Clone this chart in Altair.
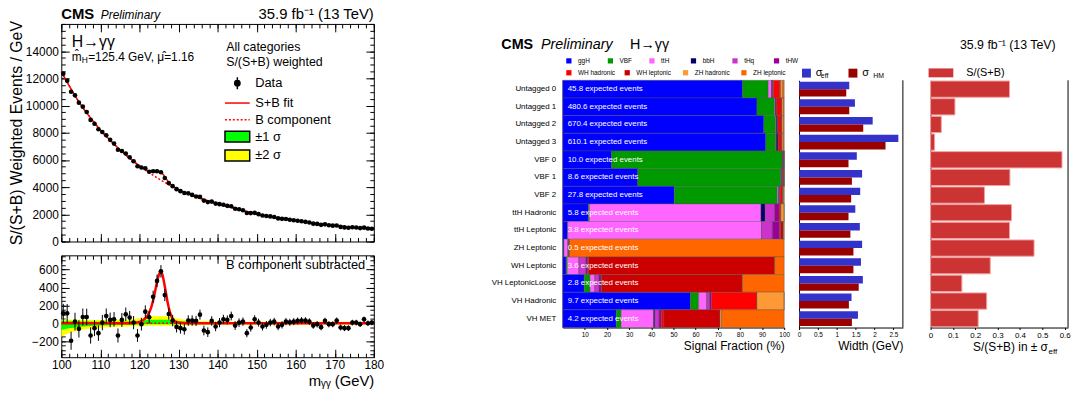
import altair as alt
import pandas as pd

FONT = "Liberation Sans"

# ---------------- left: diphoton mass spectrum ----------------
mass_bins = [100.5 + i for i in range(80)]  # 1 GeV bins
weighted_events = [12341, 11819, 11012, 10748, 10208, 9918, 9525, 8941, 8660, 8257,
                   8049, 7816, 7477, 7199, 6745, 6657, 6469, 6189, 5900, 5532,
                   5444, 5383, 5125, 5165, 5162, 5096, 4666, 4296, 4069, 3850,
                   3702, 3565, 3543, 3427, 3310, 3278, 3007, 2896, 2934, 2785,
                   2746, 2704, 2620, 2589, 2410, 2367, 2300, 2096, 2087, 2108,
                   2008, 1908, 1872, 1844, 1803, 1697, 1666, 1654, 1599, 1560,
                   1525, 1487, 1447, 1395, 1313, 1292, 1226, 1263, 1195, 1164,
                   1176, 1071, 1038, 1012, 1049, 1025, 985, 1017, 952, 937]
residuals = [111, 111, -196, 18, -63, 70, 70, -137, -55, -111,
             7, 81, 37, 44, -137, 37, 100, 63, 7, -137,
             -11, 130, 67, 296, 474, 581, 315, 104, 30, -41,
             -55, -67, 30, 30, 26, 96, -81, -100, 26, -37,
             7, 44, 37, 81, -26, 7, 18, -111, -48, 44,
             7, -37, -18, 7, 18, -37, -18, 18, 11, 18,
             26, 30, 30, 18, -26, -11, -44, 26, -11, -11,
             30, -48, -55, -55, 7, 7, -11, 44, 0, 7]
errors = [106, 104, 101, 99, 97, 95, 93, 91, 89, 87,
          86, 84, 82, 81, 79, 78, 76, 75, 74, 72,
          71, 70, 69, 69, 70, 70, 68, 65, 64, 62,
          61, 60, 59, 58, 57, 56, 55, 54, 53, 52,
          52, 51, 50, 49, 49, 48, 47, 46, 46, 45,
          44, 44, 43, 42, 42, 41, 41, 40, 39, 39,
          38, 38, 37, 37, 36, 36, 35, 35, 35, 34,
          34, 33, 33, 32, 32, 32, 31, 31, 31, 30]

fit_mass = [100, 102.5, 105, 107.5, 110, 112.5, 115, 117.5, 119, 120, 121, 122, 123, 123.5,
            124, 124.5, 125, 125.4, 125.8, 126.3, 126.8, 127.3, 127.8, 128.5, 130, 132.5,
            135, 137.5, 140, 142.5, 145, 147.5, 150, 155, 160, 165, 170, 175, 180]
fit_events = [12500, 11210, 10050, 9080, 8200, 7440, 6750, 6127, 5786, 5575, 5388, 5234, 5136, 5124,
              5132, 5148, 5145, 5107, 5020, 4843, 4637, 4438, 4271, 4089, 3822, 3513,
              3230, 2996, 2780, 2583, 2400, 2207, 2030, 1760, 1520, 1320, 1160, 1030, 920]
bkg_mass = [100, 102.5, 105, 107.5, 110, 112.5, 115, 117.5, 120, 122.5, 125, 127.5, 130, 132.5,
            135, 137.5, 140, 142.5, 145, 147.5, 150, 155, 160, 165, 170, 175, 180]
bkg_events = [12500, 11210, 10050, 9080, 8200, 7440, 6750, 6126, 5560, 5058, 4600, 4192, 3820, 3513,
              3230, 2996, 2780, 2583, 2400, 2207, 2030, 1760, 1520, 1320, 1160, 1030, 920]
sig_mass = [100, 117, 119, 120, 121, 122, 123, 123.5, 124, 124.5, 125, 125.4, 125.8, 126.3,
            126.8, 127.3, 127.8, 128.5, 129.5, 131, 133, 180]
sig_events = [0, 1, 6, 15, 35, 80, 175, 255, 355, 460, 545, 575, 555, 460,
              335, 215, 125, 50, 14, 2, 0, 0]
band_mass = [100, 102, 105, 110, 115, 118, 121, 123, 125, 127, 130, 133, 137, 145, 160, 180]
band2_lo = [-150, -110, -75, -50, -40, -35, -30, -28, -28, -28, -25, -22, -20, -18, -16, -15]
band2_hi = [45, 40, 38, 35, 38, 45, 65, 78, 80, 75, 50, 30, 22, 18, 16, 15]
band1_lo = [-75, -55, -38, -25, -20, -18, -12, -10, -10, -10, -12, -11, -10, -9, -8, -8]
band1_hi = [25, 22, 20, 18, 18, 22, 32, 40, 40, 38, 25, 15, 11, 9, 8, 8]

# ---------------- right: category composition ----------------
categories = ["Untagged 0", "Untagged 1", "Untagged 2", "Untagged 3", "VBF 0", "VBF 1", "VBF 2",
              "ttH Hadronic", "ttH Leptonic", "ZH Leptonic", "WH Leptonic", "VH LeptonicLoose",
              "VH Hadronic", "VH MET"]
expected_events = ["45.8", "480.6", "670.4", "610.1", "10.0", "8.6", "27.8",
                   "5.8", "3.8", "0.5", "3.6", "2.8", "9.7", "4.2"]
processes = ["ggH", "VBF", "ttH", "bbH", "tHq", "tHW",
             "WH hadronic", "WH leptonic", "ZH hadronic", "ZH leptonic"]
process_colors = ["#0000ff", "#009900", "#ff66ff", "#000066", "#cc33cc", "#990099",
                  "#ff0000", "#cc0000", "#ff9933", "#ff6600"]
frac_ggH = [81.2, 87.7, 90.8, 91.7, 22.1, 33.9, 50.4, 11.6, 2.2, 0.5, 1.5, 9.7, 57.7, 24.2]
frac_VBF = [11.6, 7.9, 5.3, 4.5, 76.9, 64.6, 46.5, 0.5, 0.1, 0.1, 0.6, 2.7, 3.7, 2.2]
frac_ttH = [1.5, 0.4, 0.3, 0.2, 0.2, 0.2, 0.6, 77.4, 87.5, 1.8, 5.3, 2.2, 3.7, 14.6]
frac_bbH = [0.3, 0.4, 0.6, 0.8, 0.1, 0.2, 0.2, 1.9, 0.0, 0.0, 0.0, 0.0, 0.0, 0.6]
frac_tHq = [0.1, 0.1, 0.1, 0.1, 0.1, 0.1, 0.3, 4.2, 4.8, 0.4, 3.0, 1.8, 1.2, 1.9]
frac_tHW = [0.4, 0.1, 0.1, 0.1, 0.3, 0.2, 0.2, 2.1, 3.3, 0.2, 0.9, 0.9, 0.9, 1.0]
frac_WHhad = [2.7, 2.2, 1.5, 1.4, 0.2, 0.6, 1.0, 0.6, 0.4, 0.0, 0.3, 0.3, 20.5, 1.2]
frac_WHlep = [0.6, 0.2, 0.3, 0.3, 0.0, 0.1, 0.2, 0.2, 1.2, 0.0, 84.1, 63.5, 0.0, 25.3]
frac_ZHhad = [0.9, 0.7, 0.7, 0.6, 0.1, 0.1, 0.4, 1.5, 0.3, 0.0, 0.0, 0.0, 12.3, 0.7]
frac_ZHlep = [0.7, 0.3, 0.3, 0.3, 0.0, 0.0, 0.2, 0.0, 0.2, 97.0, 4.3, 18.9, 0.0, 28.3]
fractions = [frac_ggH, frac_VBF, frac_ttH, frac_bbH, frac_tHq, frac_tHW,
             frac_WHhad, frac_WHlep, frac_ZHhad, frac_ZHlep]

sigma_eff = [1.33, 1.48, 1.95, 2.63, 1.53, 1.67, 1.62, 1.49, 1.61, 1.67, 1.64, 1.69, 1.39, 1.56]
sigma_hm = [1.25, 1.33, 1.70, 2.29, 1.31, 1.40, 1.38, 1.31, 1.36, 1.44, 1.44, 1.58, 1.32, 1.40]
s_over_sb = [0.353, 0.109, 0.048, 0.018, 0.588, 0.355, 0.241, 0.362, 0.353, 0.463,
             0.267, 0.140, 0.251, 0.213]

ONE = pd.DataFrame({"a": [0]})


def note(text, x, y, size, align="left", weight="normal", style="normal", dx=0, dy=0,
         color="black", ydatum=False, xvalue=False):
    enc_x = alt.value(x) if xvalue else alt.XDatum(x, axis=None)
    enc_y = alt.YDatum(y, axis=None) if ydatum else alt.value(y)
    return alt.Chart(pd.DataFrame({"t": [text]})).mark_text(
        fontSize=size, align=align, baseline="alphabetic", fontWeight=weight, fontStyle=style,
        dx=dx, dy=dy, color=color, font=FONT
    ).encode(x=enc_x, y=enc_y, text="t:N")


def own_axes(layer_chart):
    return layer_chart.resolve_axis(x="independent", y="independent")


def frame_ticks(xvals, yvals, xorient, yorient, size, mpos, vpos):
    """Invisible layer that only carries ROOT-style inner tick axes for the frame."""
    def ax(orient, vals):
        return alt.Axis(orient=orient, values=vals, labels=False, title=None, domain=False,
                        tickSize=size, offset=-size, grid=False)
    return alt.Chart(pd.DataFrame({"m": [mpos], "v": [vpos]})).mark_point(opacity=0).encode(
        x=alt.X("m:Q", axis=ax(xorient, xvals)), y=alt.Y("v:Q", axis=ax(yorient, yvals)))


# ================= LEFT TOP =================
xm = alt.Scale(domain=[100, 180], nice=False, zero=False)
yt = alt.Scale(domain=[0, 16000], nice=False)
yb = alt.Scale(domain=[-380, 760], nice=False, zero=False)
m_ticks = list(range(100, 181, 10))
m_minor = list(range(100, 181, 2))
top_ticks = list(range(0, 14001, 2000))
top_minor = list(range(0, 16001, 500))
bot_ticks = [-200, 0, 200, 400, 600]
bot_minor = list(range(-350, 751, 50))

ax_top_x = alt.Axis(values=m_ticks, labels=False, title=None, domain=False,
                    tickSize=8, offset=-8, grid=False)
ax_top_y = alt.Axis(values=top_ticks, format="d",
                    title="S/(S+B) Weighted Events / GeV", titleFontSize=16, labelFontSize=12,
                    tickSize=8, offset=-8, labelPadding=3, domain=False, titlePadding=1, grid=False)

df_top = pd.DataFrame({"m": mass_bins, "v": weighted_events})
df_fit = pd.DataFrame({"m": fit_mass, "v": fit_events})
df_bkg = pd.DataFrame({"m": bkg_mass, "v": bkg_events})

l_bkg = alt.Chart(df_bkg).mark_line(color="#ff0000", strokeWidth=1.5, strokeDash=[2, 2],
                                    interpolate="monotone").encode(
    x=alt.X("m:Q", scale=xm, axis=ax_top_x), y=alt.Y("v:Q", scale=yt, axis=ax_top_y))
l_fit = alt.Chart(df_fit).mark_line(color="#ff0000", strokeWidth=1.5, interpolate="monotone").encode(
    x=alt.X("m:Q", axis=None), y=alt.Y("v:Q", axis=None))
p_top = alt.Chart(df_top).mark_circle(color="black", size=22, opacity=1).encode(
    x=alt.X("m:Q", axis=None), y=alt.Y("v:Q", axis=None))

leg_entries = ["Data", "S+B fit", "B component", "±1 σ", "±2 σ"]
leg_shapes = [
    "M0,-0.67V0.67M-0.3,0A0.3,0.3,0,1,0,0.3,0A0.3,0.3,0,1,0,-0.3,0Z",
    "M-1.39,0H1.39",
    "M-1.39,0H-1.17M-0.95,0H-0.73M-0.51,0H-0.29M-0.07,0H0.15M0.37,0H0.59M0.81,0H1.03M1.25,0H1.39",
    "M-1.39,-0.61H1.39V0.61H-1.39Z",
    "M-1.39,-0.61H1.39V0.61H-1.39Z",
]
leg_fills = ["black", "transparent", "transparent", "#00ff00", "#ffff00"]
leg_strokes = ["black", "#ff0000", "#ff0000", "black", "black"]
top_legend = alt.Legend(title=None, orient="none", legendX=168, legendY=50, symbolSize=324,
                        labelFontSize=13, labelOffset=8, rowPadding=0, padding=0,
                        symbolStrokeWidth=1.5, labelColor="black", labelFont=FONT)
host = alt.Chart(pd.DataFrame({"entry": leg_entries})).transform_filter("false").mark_point(
    opacity=1).encode(
    fill=alt.Fill("entry:N", scale=alt.Scale(domain=leg_entries, range=leg_fills), legend=top_legend),
    stroke=alt.Stroke("entry:N", scale=alt.Scale(domain=leg_entries, range=leg_strokes), legend=top_legend),
    shape=alt.Shape("entry:N", scale=alt.Scale(domain=leg_entries, range=leg_shapes), legend=top_legend),
)

top_panel = own_axes(alt.layer(
    l_bkg, l_fit, p_top,
    frame_ticks(m_ticks, top_ticks, "top", "right", 8, 140, 8000),
    frame_ticks(m_minor, top_minor, "bottom", "left", 4, 140, 8000),
    frame_ticks(m_minor, top_minor, "top", "right", 4, 140, 8000),
    host,
    note("CMS", 100, -5, 15, weight="bold"),
    note("Preliminary", 100, -5, 12, style="italic", dx=40),
    note("35.9 fb⁻¹ (13 TeV)", 180, -5, 15, align="right"),
    note("H→γγ", 102.7, 23, 16),
    note("m̂", 102.7, 37, 12),
    note("H", 102.7, 40, 8.5, dx=10),
    note("=125.4 GeV, μ̂=1.16", 102.7, 37, 12, dx=16.5),
    note("All categories", 142.2, 27, 12.5),
    note("S/(S+B) weighted", 142.2, 43, 12.5),
)).properties(width=316, height=220)

# ================= LEFT BOTTOM =================
ax_bot_x = alt.Axis(values=m_ticks, format="d", labelFontSize=12, tickSize=8,
                    offset=-8, labelPadding=2, domain=False, grid=False, title="mᵧᵧ (GeV)",
                    titleFontSize=15, titleAnchor="end", titlePadding=4)
ax_bot_y = alt.Axis(values=bot_ticks, labelFontSize=12, tickSize=8, offset=-8,
                    labelPadding=3, domain=False, grid=False, title=None)

df_band = pd.DataFrame({"m": band_mass, "lo2": band2_lo, "hi2": band2_hi,
                        "lo1": band1_lo, "hi1": band1_hi})
df_sig = pd.DataFrame({"m": sig_mass, "v": sig_events})
df_res = pd.DataFrame({"m": mass_bins, "v": residuals, "e": errors})

b_yel = alt.Chart(df_band).mark_area(color="#ffff00", opacity=1, interpolate="monotone").encode(
    x=alt.X("m:Q", scale=xm, axis=ax_bot_x), y=alt.Y("lo2:Q", scale=yb, axis=ax_bot_y), y2="hi2:Q")
b_grn = alt.Chart(df_band).mark_area(color="#00ff00", opacity=1, interpolate="monotone").encode(
    x=alt.X("m:Q", axis=None), y=alt.Y("lo1:Q", axis=None), y2="hi1:Q")
zero_b = alt.Chart(ONE).mark_rule(color="#ff0000", strokeDash=[2, 2], strokeWidth=1.5).encode(
    y=alt.YDatum(0, axis=None))
sig_l = alt.Chart(df_sig).mark_line(color="#ff0000", strokeWidth=2.5, interpolate="monotone").encode(
    x=alt.X("m:Q", axis=None), y=alt.Y("v:Q", axis=None))
err_r = alt.Chart(df_res).transform_calculate(lo="datum.v - datum.e", hi="datum.v + datum.e").mark_rule(
    color="black", strokeWidth=1).encode(x=alt.X("m:Q", axis=None), y=alt.Y("lo:Q", axis=None), y2="hi:Q")
p_bot = alt.Chart(df_res).mark_circle(color="black", size=22, opacity=1).encode(
    x=alt.X("m:Q", axis=None), y=alt.Y("v:Q", axis=None))

bottom_panel = own_axes(alt.layer(
    b_yel, b_grn, zero_b, sig_l, err_r, p_bot,
    frame_ticks(m_ticks, bot_ticks, "top", "right", 8, 140, 0),
    frame_ticks(m_minor, bot_minor, "bottom", "left", 4, 140, 0),
    frame_ticks(m_minor, bot_minor, "top", "right", 4, 140, 0),
    note("B component subtracted", 177.8, 605, 13, align="right", ydatum=True),
)).properties(width=316, height=103)


def indep(ch):
    return ch.resolve_scale(color="independent", fill="independent", stroke="independent",
                            shape="independent")


left_group = indep(alt.vconcat(top_panel, bottom_panel, spacing=6))

# ================= RIGHT: signal fraction =================
rows = []
for i, c in enumerate(categories):
    for j, p in enumerate(processes):
        rows.append({"cat": c, "proc": p, "frac": fractions[j][i], "order": j,
                     "grp": 1 if j < 6 else 2})
df_frac = pd.DataFrame(rows)
df_cat = pd.DataFrame({"cat": categories, "label": [e + " expected events" for e in expected_events]})

yf = alt.Scale(domain=categories, paddingInner=0, paddingOuter=0)
xf = alt.Scale(domain=[0, 100], nice=False)
ax_frac_x = alt.Axis(values=list(range(10, 101, 10)), format="d", labelFontSize=6.5, tickSize=2,
                     labelPadding=2, grid=False, title="Signal Fraction (%)", titleFontSize=12,
                     titleAnchor="end", titlePadding=3, labelOverlap=False, domain=True)
ax_frac_y = alt.Axis(title=None, labelFontSize=8, ticks=False, labelPadding=7, grid=False)

base = alt.Chart(df_frac).transform_stack(
    stack="frac", groupby=["cat"], as_=["x0", "x1"], sort=[alt.SortField("order", order="ascending")])
leg_a = alt.Legend(title=None, orient="none", legendX=3, legendY=-23, direction="horizontal",
                   columns=6, symbolType="square", symbolSize=28, labelFontSize=6.5, labelOffset=6,
                   columnPadding=16, gridAlign="all", padding=0, symbolStrokeWidth=0)
leg_b = alt.Legend(title=None, orient="none", legendX=3, legendY=-11, direction="horizontal",
                   columns=4, symbolType="square", symbolSize=28, labelFontSize=6.5, labelOffset=6,
                   columnPadding=8, gridAlign="all", padding=0, symbolStrokeWidth=0)
bars_a = base.transform_filter("datum.grp == 1").mark_bar(stroke="#555555", strokeWidth=0.4).encode(
    x=alt.X("x0:Q", scale=xf, axis=ax_frac_x), x2="x1:Q",
    y=alt.Y("cat:N", scale=yf, axis=ax_frac_y),
    color=alt.Color("proc:N", scale=alt.Scale(domain=processes[:6], range=process_colors[:6]),
                    legend=leg_a))
bars_b = base.transform_filter("datum.grp == 2").mark_bar(stroke="#555555", strokeWidth=0.4).encode(
    x=alt.X("x0:Q", axis=None), x2="x1:Q", y=alt.Y("cat:N", scale=yf, axis=None),
    color=alt.Color("proc:N", scale=alt.Scale(domain=processes[6:], range=process_colors[6:]),
                    legend=leg_b))
ev_txt = alt.Chart(df_cat).mark_text(color="white", fontSize=8, align="left", baseline="middle",
                                     dx=5, font=FONT).encode(
    x=alt.XDatum(0, axis=None), y=alt.Y("cat:N", scale=yf, axis=None), text="label:N")

frac_panel = own_axes(alt.layer(
    bars_a, bars_b, ev_txt,
    note("CMS", -27.7, -32, 14.5, weight="bold"),
    note("Preliminary", -9.8, -32, 14.5, style="italic"),
    note("H→γγ", 30.4, -32, 14.5),
)).resolve_scale(color="independent").properties(width=224, height=250,
                                                  view=alt.ViewBackground(stroke=None))

# ================= RIGHT: widths =================
w_rows = []
for i, c in enumerate(categories):
    w_rows.append({"cat": c, "kind": "eff", "val": sigma_eff[i]})
    w_rows.append({"cat": c, "kind": "HM", "val": sigma_hm[i]})
df_w = pd.DataFrame(w_rows)
ax_w_x = alt.Axis(values=[0, 0.5, 1, 1.5, 2, 2.5], format="~g", labelFontSize=6.5, tickSize=2,
                  labelPadding=2, grid=False, title="Width (GeV)", titleFontSize=12,
                  titleAnchor="end", titlePadding=3, labelOverlap=False, domain=True)
ax_noy = alt.Axis(title=None, labels=False, ticks=False, grid=False, domain=True)
leg_w = alt.Legend(title=None, orient="none", legendX=2, legendY=-13, direction="horizontal",
                   symbolType="square", symbolSize=81, labelFontSize=11, labelOffset=4,
                   columnPadding=25, padding=0, symbolStrokeWidth=0, labelExpr="'σ'")
w_bars = alt.Chart(df_w).mark_bar().encode(
    x=alt.X("val:Q", scale=alt.Scale(domain=[0, 2.75], nice=False), axis=ax_w_x),
    y=alt.Y("cat:N", scale=alt.Scale(domain=categories, paddingInner=0.16, paddingOuter=0.08),
            axis=ax_noy),
    yOffset=alt.YOffset("kind:N", scale=alt.Scale(domain=["eff", "HM"], paddingInner=0,
                                                  paddingOuter=0)),
    color=alt.Color("kind:N", scale=alt.Scale(domain=["eff", "HM"], range=["#3333cc", "#990000"]),
                    legend=leg_w),
)
w_border = alt.Chart(ONE).mark_rule(color="black", strokeWidth=1).encode(
    x=alt.XDatum(2.75, axis=None))
width_panel = own_axes(alt.layer(
    w_bars, w_border,
    note("eff", 22, -2, 7, xvalue=True),
    note("HM", 75, -2, 7, xvalue=True),
)).properties(width=105, height=250, view=alt.ViewBackground(stroke=None))

# ================= RIGHT: S/(S+B) =================
df_s = pd.DataFrame({"cat": categories, "s": s_over_sb, "leg": ["S/(S+B)"] * len(categories)})
ax_s_x = alt.Axis(values=[0, 0.1, 0.2, 0.3, 0.4, 0.5, 0.6], format="~g", labelFontSize=8,
                  tickSize=2, labelPadding=2, grid=False, title=None, labelOverlap=False, domain=True)
leg_s = alt.Legend(title=None, orient="none", legendX=-2, legendY=-20, symbolSize=625,
                   symbolType="M-1,-0.36H1V0.36H-1Z", labelFontSize=11, labelOffset=13,
                   padding=0, symbolStrokeWidth=0)
s_bars = alt.Chart(df_s).mark_bar(stroke="#f2a0a0", strokeWidth=1).encode(
    x=alt.X("s:Q", scale=alt.Scale(domain=[0, 0.615], nice=False), axis=ax_s_x),
    y=alt.Y("cat:N", scale=alt.Scale(domain=categories, paddingInner=0.08, paddingOuter=0.04),
            axis=ax_noy),
    fill=alt.Fill("leg:N", scale=alt.Scale(domain=["S/(S+B)"], range=["#cc3333"]), legend=leg_s),
)
s_border = alt.Chart(ONE).mark_rule(color="black", strokeWidth=1).encode(
    x=alt.XDatum(0.615, axis=None))
ssb_panel = own_axes(alt.layer(
    s_bars, s_border,
    note("S/(S+B) in ± σ", 0.525, 274, 12, align="right"),
    note("eff", 0.528, 277, 8),
    note("35.9 fb⁻¹ (13 TeV)", 0.560, -32, 12.5, align="right"),
)).properties(width=139, height=250, view=alt.ViewBackground(stroke=None))

right_panels = indep(alt.hconcat(frac_panel, indep(alt.hconcat(width_panel, ssb_panel, spacing=24)),
                                 spacing=-6))
spacer = alt.Chart(ONE).mark_point(opacity=0).properties(
    width=1, height=13, view=alt.ViewBackground(stroke=None))
right_group = indep(alt.vconcat(spacer, right_panels, spacing=0))

chart = indep(alt.hconcat(left_group, right_group, spacing=107)).properties(
    padding={"left": 8, "top": 4, "right": 0, "bottom": 0}
).configure(font=FONT).configure_axis(
    labelFont=FONT, titleFont=FONT, labelColor="black", titleColor="black", tickColor="black",
    domainColor="black", titleFontWeight="normal", grid=False, labelOverlap=False, labelFlush=False
).configure_legend(labelFont=FONT, labelColor="black").configure_view(stroke="black", strokeWidth=1)

chart.save("out.html", embed_options={"renderer": "svg", "actions": False})
